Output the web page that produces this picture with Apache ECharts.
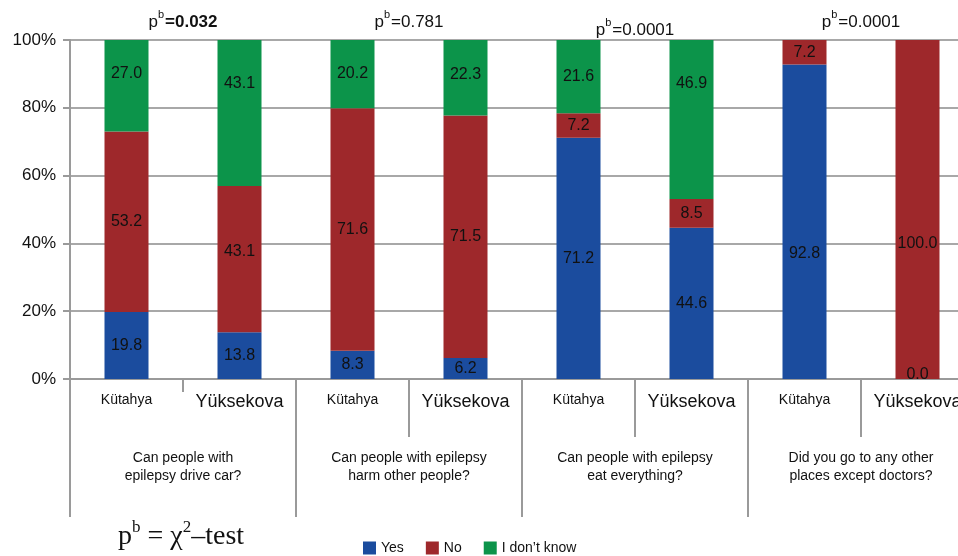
<!DOCTYPE html>
<html>
<head>
<meta charset="utf-8">
<script src="https://cdn.jsdelivr.net/npm/echarts@6/dist/echarts.min.js"></script>
<style>
  html, body { margin: 0; padding: 0; overflow: hidden; background: #fff; }
  #chart { width: 974px; height: 556px; }
</style>
</head>
<body>
<div id="chart"></div>
<script>
// ---- data ----
const sites = ['Kütahya', 'Yüksekova', 'Kütahya', 'Yüksekova', 'Kütahya', 'Yüksekova', 'Kütahya', 'Yüksekova'];
const questions = [
  'Can people with\nepilepsy drive car?',
  'Can people with epilepsy\nharm other people?',
  'Can people with epilepsy\neat everything?',
  'Did you go to any other\nplaces except doctors?'
];
const pValues = ['0.032', '0.781', '0.0001', '0.0001'];
const pBold = [true, false, false, false];
const yesValues = [19.8, 13.8, 8.3, 6.2, 71.2, 44.6, 92.8, 0.0];
const noValues = [53.2, 43.1, 71.6, 71.5, 7.2, 8.5, 7.2, 100.0];
const idkValues = [27.0, 43.1, 20.2, 22.3, 21.6, 46.9, 0, 0];
const yTicks = [0, 20, 40, 60, 80, 100];

const FONT = '"Liberation Sans", Arial, sans-serif';
const SERIF = '"Liberation Serif", "DejaVu Serif", serif';
const colors = { yes: '#1b4c9e', no: '#9e282b', idk: '#0c944a' };
const GRAY = '#9a9a9a';

// label placement tweaks (the source's labels are not all centred in their segments)
const labelShift = {
  yes: { 6: 32, 7: -4 },
  no: { 1: -8, 7: 34 },
  idk: { 0: -12, 1: -29, 3: -3, 5: -36 }
};

const chart = echarts.init(document.getElementById('chart'), null, { renderer: 'canvas' });

function seriesData(values, key) {
  return values.map((v, i) => {
    const d = { value: v };
    if (labelShift[key][i] !== undefined) d.label = { offset: [0, labelShift[key][i]] };
    return d;
  });
}

function labelCfg(hideZero) {
  return {
    show: true,
    position: 'inside',
    color: '#111',
    fontSize: 16,
    fontFamily: FONT,
    formatter: p => (hideZero && p.value === 0) ? '' : p.value.toFixed(1)
  };
}

const option = {
  animation: false,
  backgroundColor: '#fff',
  textStyle: { fontFamily: FONT },
  grid: { left: 70, right: 0, top: 40, bottom: 177, containLabel: false },
  legend: {
    data: ['Yes', 'No', 'I don’t know'],
    left: 358, top: 536,
    icon: 'rect', itemWidth: 13, itemHeight: 13, itemGap: 22,
    textStyle: { fontSize: 14, color: '#111', fontFamily: FONT }
  },
  xAxis: [
    {
      type: 'category', data: sites, position: 'bottom', offset: 0,
      axisLine: { show: true, lineStyle: { color: GRAY, width: 2 } },
      axisTick: { show: false },
      axisLabel: {
        interval: 0, margin: 14,
        formatter: v => v === 'Kütahya' ? '{k|' + v + '}' : '{y|' + v + '}',
        rich: {
          k: { fontSize: 14, color: '#111', fontFamily: FONT },
          y: { fontSize: 18, color: '#111', fontFamily: FONT }
        }
      },
      splitLine: { show: false }
    },
    {
      type: 'category', data: sites, position: 'bottom', offset: 0,
      axisLine: { show: false },
      axisTick: { show: true, length: 58, interval: (i) => i === 3 || i === 5 || i === 7, lineStyle: { color: GRAY, width: 2 } },
      axisLabel: { show: true, interval: 0, formatter: () => '' }
    },
    {
      type: 'category', data: questions, position: 'bottom', offset: 0,
      axisLine: { show: false },
      axisTick: { show: true, length: 138, lineStyle: { color: GRAY, width: 2 } },
      axisLabel: { interval: 0, margin: 70, fontSize: 14, lineHeight: 18, color: '#111', fontFamily: FONT, align: 'center' }
    }
  ],
  yAxis: {
    type: 'value', min: 0, max: 100, interval: 20,
    axisLine: { show: true, lineStyle: { color: GRAY, width: 2 } },
    axisTick: { show: true, length: 7, lineStyle: { color: GRAY, width: 2 } },
    axisLabel: { formatter: '{value}%', fontSize: 17, color: '#111', margin: 14, fontFamily: FONT },
    splitLine: { show: true, lineStyle: { color: '#a8a8a8', width: 2 } }
  },
  series: [
    { name: 'Yes', type: 'bar', stack: 'a', data: seriesData(yesValues, 'yes'), barWidth: 44, itemStyle: { color: colors.yes }, label: labelCfg(false) },
    { name: 'No', type: 'bar', stack: 'a', data: seriesData(noValues, 'no'), barWidth: 44, itemStyle: { color: colors.no }, label: labelCfg(true) },
    { name: 'I don’t know', type: 'bar', stack: 'a', data: seriesData(idkValues, 'idk'), barWidth: 44, itemStyle: { color: colors.idk }, label: labelCfg(true) }
  ]
};
chart.setOption(option);

// p-value annotations above each question group
const pY = [20, 20, 28, 20];
const graphics = pValues.map((v, i) => {
  const x = chart.convertToPixel({ xAxisIndex: 2 }, i);
  return {
    type: 'text', x: x, y: pY[i],
    style: {
      text: '{p|p}{s|b}{' + (pBold[i] ? 'vb' : 'v') + '|=' + v + '}',
      align: 'center', verticalAlign: 'middle',
      rich: {
        p: { fontSize: 17, fontFamily: FONT, fill: '#111', lineHeight: 22, verticalAlign: 'bottom' },
        s: { fontSize: 11, fontFamily: FONT, fill: '#111', lineHeight: 22, verticalAlign: 'top', padding: [0, 1, 0, 0] },
        v: { fontSize: 17, fontFamily: FONT, fill: '#111', lineHeight: 22, verticalAlign: 'bottom' },
        vb: { fontSize: 17, fontFamily: FONT, fill: '#111', fontWeight: 'bold', lineHeight: 22, verticalAlign: 'bottom' }
      }
    }
  };
});

// short separator between the two sites of the first question
const x0 = chart.convertToPixel({ xAxisIndex: 0 }, 0);
const x1 = chart.convertToPixel({ xAxisIndex: 0 }, 1);
const yBase = chart.convertToPixel({ yAxisIndex: 0 }, 0);
graphics.push({
  type: 'line', silent: true,
  shape: { x1: (x0 + x1) / 2, y1: yBase, x2: (x0 + x1) / 2, y2: yBase + 13 },
  style: { stroke: GRAY, lineWidth: 2 }
});

graphics.push({
  type: 'text', x: 181, y: 535,
  style: {
    text: '{t|p}{s|b}{t| = χ}{s|2}{t|–test}',
    align: 'center', verticalAlign: 'middle',
    rich: {
      t: { fontSize: 28, fontFamily: SERIF, fill: '#111', lineHeight: 32, verticalAlign: 'bottom' },
      s: { fontSize: 17, fontFamily: SERIF, fill: '#111', lineHeight: 32, verticalAlign: 'top' }
    }
  }
});
chart.setOption({ graphic: graphics });
</script>
</body>
</html>
